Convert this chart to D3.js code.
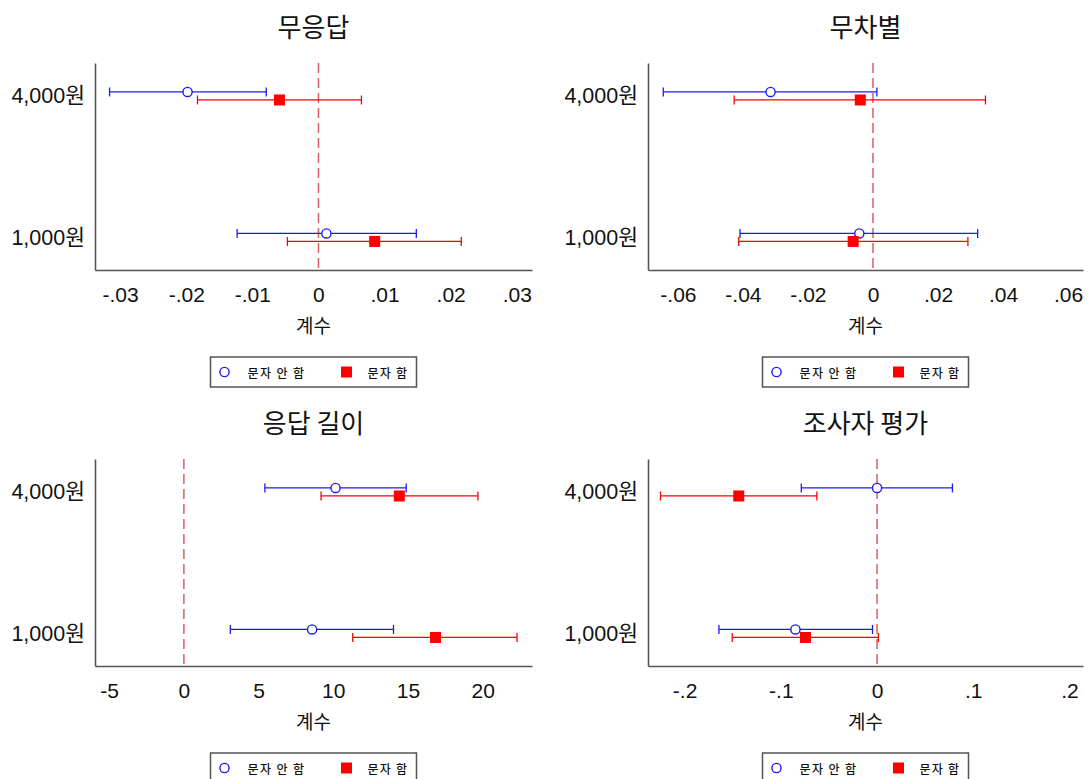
<!DOCTYPE html>
<html>
<head>
<meta charset="utf-8">
<script src="https://cdn.jsdelivr.net/npm/d3@7"></script>
<style>
  html, body { margin: 0; padding: 0; background: #fff; }
  svg { display: block; }
  text { font-family: "Liberation Sans", Arial, "Noto Sans CJK KR", sans-serif; fill: #111; }
  .kr { font-family: "Noto Sans CJK KR", "Liberation Sans", sans-serif; }
</style>
</head>
<body>
<svg id="chart" width="1090" height="779"></svg>
<script>
// Row categories (top to bottom) and series names
const rowLabels = ["4,000원", "1,000원"];
const rowValues = [2, 1];
const seriesNames = ["문자 안 함", "문자 함"];
const panelTitles = ["무응답", "무차별", "응답 길이", "조사자 평가"];
const axisTitle = "계수";

// Point estimates per panel, [4,000원, 1,000원]
const noTextEst = [[-0.0198, 0.0012], [-0.0315, -0.0042], [10.15, 8.58], [0.0, -0.0848]];
const noTextLo  = [[-0.0316, -0.0123], [-0.0645, -0.0409], [5.42, 3.11], [-0.0787, -0.1643]];
const noTextHi  = [[-0.0079, 0.0148], [0.0012, 0.0322], [14.88, 14.03], [0.0783, -0.0047]];

const textEst = [[-0.0059, 0.0085], [-0.0039, -0.0061], [14.42, 16.84], [-0.1437, -0.0744]];
const textLo  = [[-0.0183, -0.0047], [-0.0427, -0.0413], [9.18, 11.3], [-0.225, -0.1505]];
const textHi  = [[0.0065, 0.0216], [0.0346, 0.0292], [19.68, 22.3], [-0.0625, 0.0014]];

// Axis ranges and ticks
const xDomains = [[-0.0338, 0.0323], [-0.0692, 0.0646], [-5.95, 23.3], [-0.238, 0.214]];
const xTickValues = [
  [-0.03, -0.02, -0.01, 0, 0.01, 0.02, 0.03],
  [-0.06, -0.04, -0.02, 0, 0.02, 0.04, 0.06],
  [-5, 0, 5, 10, 15, 20],
  [-0.2, -0.1, 0, 0.1, 0.2]
];
const xTickLabels = [
  ["-.03", "-.02", "-.01", "0", ".01", ".02", ".03"],
  ["-.06", "-.04", "-.02", "0", ".02", ".04", ".06"],
  ["-5", "0", "5", "10", "15", "20"],
  ["-.2", "-.1", "0", ".1", ".2"]
];

const svg = d3.select("#chart");

const colBounds = [[95, 532], [648, 1083]];
const rowBounds = [[63, 270], [459, 666]];
const seriesOffset = 0.0283;
const blue = "#1a1aff";
const red = "#ff0000";

panelTitles.forEach((title, p) => {
  const [x0, x1] = colBounds[p % 2];
  const [y0, y1] = rowBounds[Math.floor(p / 2)];
  const cx = (x0 + x1) / 2;

  const x = d3.scaleLinear().domain(xDomains[p]).range([x0, x1]);
  const y = d3.scaleLinear().domain([0.77, 2.233]).range([y1, y0]);

  const g = svg.append("g");

  // title
  g.append("text").attr("class", "kr")
    .attr("x", cx).attr("y", y0 - 38)
    .attr("text-anchor", "middle").attr("dominant-baseline", "central")
    .style("font-size", "26px").text(title);

  // x axis
  const xAxis = d3.axisBottom(x)
    .tickValues(xTickValues[p])
    .tickFormat((d, i) => xTickLabels[p][i])
    .tickSize(0).tickSizeOuter(0).tickPadding(17);
  const gx = g.append("g").attr("transform", `translate(0,${y1})`).call(xAxis);
  gx.select(".domain").attr("stroke", "#555").attr("stroke-width", 1.6);
  gx.selectAll("text").style("font-size", "21px")
    .style("font-family", "'Liberation Sans', Arial, sans-serif").attr("fill", "#111");

  // y axis
  const yAxis = d3.axisLeft(y)
    .tickValues(rowValues)
    .tickFormat((d, i) => rowLabels[i])
    .tickSize(0).tickSizeOuter(0).tickPadding(10);
  const gy = g.append("g").attr("transform", `translate(${x0},0)`).call(yAxis);
  gy.select(".domain").attr("stroke", "#555").attr("stroke-width", 1.6);
  gy.selectAll("text").style("font-size", "21.5px")
    .style("font-family", "'Liberation Sans', Arial, 'Noto Sans CJK KR', sans-serif").attr("fill", "#111");

  // axis title
  g.append("text").attr("class", "kr")
    .attr("x", cx).attr("y", y1 + 54)
    .attr("text-anchor", "middle").attr("dominant-baseline", "central")
    .style("font-size", "19px").text(axisTitle);

  // zero reference line
  g.append("line")
    .attr("x1", x(0)).attr("x2", x(0))
    .attr("y1", y0).attr("y2", y1)
    .attr("stroke", "#d6404e").attr("stroke-opacity", 0.85)
    .attr("stroke-width", 1.5).attr("stroke-dasharray", "10,5");

  // series rows
  const series = [
    { est: noTextEst[p], lo: noTextLo[p], hi: noTextHi[p], color: blue, off: seriesOffset, shape: "circle" },
    { est: textEst[p], lo: textLo[p], hi: textHi[p], color: red, off: -seriesOffset, shape: "square" }
  ];

  series.forEach(s => {
    rowValues.forEach((rv, i) => {
      const yy = y(rv + s.off);
      const eg = g.append("g");
      eg.append("line")
        .attr("x1", x(s.lo[i])).attr("x2", x(s.hi[i]))
        .attr("y1", yy).attr("y2", yy)
        .attr("stroke", s.color).attr("stroke-width", 1.3);
      [s.lo[i], s.hi[i]].forEach(v => {
        eg.append("line")
          .attr("x1", x(v)).attr("x2", x(v))
          .attr("y1", yy - 4.5).attr("y2", yy + 4.5)
          .attr("stroke", s.color).attr("stroke-width", 1.3);
      });
      if (s.shape === "circle") {
        eg.append("circle")
          .attr("cx", x(s.est[i])).attr("cy", yy).attr("r", 4.6)
          .attr("fill", "#fff").attr("stroke", s.color).attr("stroke-width", 1.4);
      } else {
        eg.append("rect")
          .attr("x", x(s.est[i]) - 5.5).attr("y", yy - 5.5)
          .attr("width", 11).attr("height", 11)
          .attr("fill", s.color);
      }
    });
  });

  // legend
  const lw = 206, lh = 30;
  const lx = cx - lw / 2, ly = y1 + 87;
  const lg = g.append("g").attr("transform", `translate(${lx},${ly})`);
  lg.append("rect").attr("width", lw).attr("height", lh)
    .attr("fill", "#fff").attr("stroke", "#555").attr("stroke-width", 1.5);
  lg.append("circle").attr("cx", 14).attr("cy", lh / 2).attr("r", 4.6)
    .attr("fill", "none").attr("stroke", blue).attr("stroke-width", 1.4);
  lg.append("text").attr("class", "kr")
    .attr("x", 37).attr("y", lh / 2).attr("dominant-baseline", "central")
    .style("font-size", "12px").style("font-weight", "500").style("letter-spacing", "1.4px")
    .attr("fill", "#333")
    .text(seriesNames[0]);
  lg.append("rect").attr("x", 136 - 5.5).attr("y", lh / 2 - 5.5)
    .attr("width", 11).attr("height", 11).attr("fill", red);
  lg.append("text").attr("class", "kr")
    .attr("x", 157).attr("y", lh / 2).attr("dominant-baseline", "central")
    .style("font-size", "12px").style("font-weight", "500").style("letter-spacing", "1.2px")
    .attr("fill", "#333")
    .text(seriesNames[1]);
});
</script>
</body>
</html>
